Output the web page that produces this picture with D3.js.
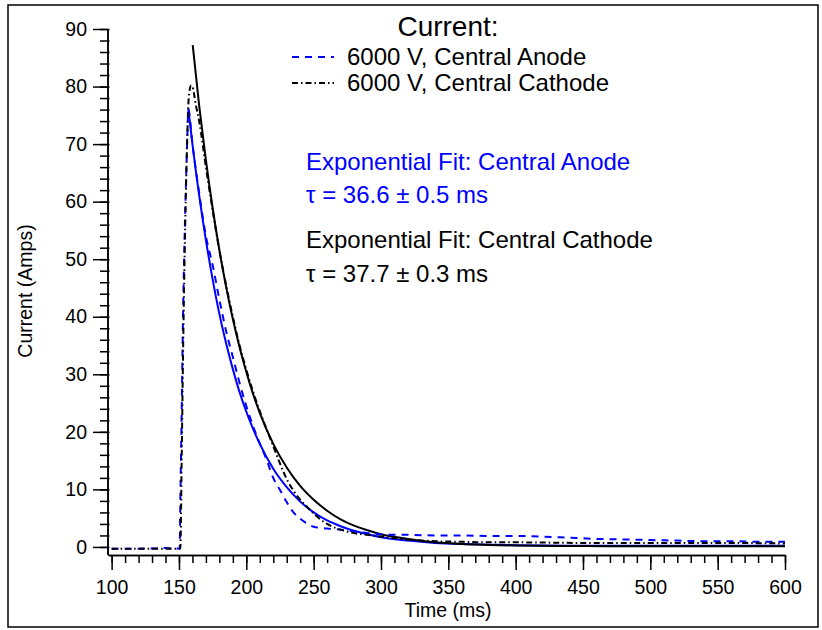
<!DOCTYPE html>
<html>
<head>
<meta charset="utf-8">
<script src="https://cdn.jsdelivr.net/npm/d3@7"></script>
<style>
  html, body { margin: 0; padding: 0; background: #fff; }
  svg { display: block; font-family: "Liberation Sans", Arial, Helvetica, sans-serif; }
</style>
</head>
<body>
<svg id="chart" width="822" height="630"></svg>
<script>
// ---------- data ----------
const anodeTime = [100, 120, 140, 150.5, 151, 151.9, 153, 154.3, 155.3, 156.3, 157, 160, 165, 170, 175, 180, 185, 190, 195, 200, 205, 210, 215, 220, 225, 230, 235, 240, 245, 250, 260, 270, 280, 290, 300, 310, 320, 340, 360, 380, 400, 420, 440, 460, 480, 500, 520, 540, 560, 580, 600];
const anodeCurrent = [-0.3, -0.3, -0.2, -0.3, 8, 21.5, 40, 55, 64, 72, 76, 70, 61.5, 54, 49, 43, 37.5, 33, 28.5, 24.5, 21, 18, 15.2, 12.0, 9.9, 7.8, 6.0, 4.9, 4.1, 3.5, 3.2, 3.0, 2.7, 2.4, 2.2, 2.1, 2.1, 2.0, 2.0, 1.9, 1.9, 1.8, 1.6, 1.4, 1.3, 1.2, 1.1, 1.0, 1.0, 0.9, 0.9];

const cathodeTime = [100, 120, 140, 151, 152, 153, 154, 155, 156, 157, 158, 159, 160, 161, 162, 165, 170, 175, 180, 185, 190, 195, 200, 205, 210, 215, 220, 225, 230, 235, 240, 245, 250, 255, 260, 270, 280, 290, 300, 320, 340, 360, 380, 400, 450, 500, 550, 600];
const cathodeCurrent = [-0.3, -0.3, -0.3, -0.3, 15, 33, 48, 60, 70, 77, 79.5, 80.2, 80, 79, 77.5, 74, 66, 58.5, 51.5, 45.5, 40, 35, 30.8, 27, 23.6, 20.5, 17.5, 14.5, 11.8, 9.8, 8.2, 7.0, 5.8, 4.8, 4.0, 3.0, 2.4, 2.1, 1.8, 1.3, 1.0, 0.9, 0.8, 0.8, 0.7, 0.7, 0.7, 0.6];

const fitAnodeTime = [156.9, 160, 165, 170, 175, 180, 185, 190, 195, 200, 210, 220, 230, 240, 250, 260, 270, 280, 290, 300, 320, 340, 360, 380, 400, 450, 500, 550, 600];
const fitAnodeCurrent = [76.2, 70.0, 61.1, 53.3, 46.5, 40.5, 35.4, 30.9, 26.9, 23.5, 17.9, 13.6, 10.4, 7.9, 6.0, 4.6, 3.6, 2.8, 2.2, 1.7, 1.1, 0.7, 0.5, 0.4, 0.3, 0.2, 0.2, 0.2, 0.2];

const fitCathodeTime = [160.2, 165, 170, 175, 180, 185, 190, 195, 200, 205, 210, 220, 230, 240, 250, 260, 270, 280, 290, 300, 320, 340, 360, 380, 400, 450, 500, 550, 600];
const fitCathodeCurrent = [87.2, 76.7, 67.2, 58.9, 51.6, 45.2, 39.6, 34.7, 30.4, 26.6, 23.3, 17.9, 13.8, 10.6, 8.2, 6.3, 4.8, 3.7, 2.9, 2.2, 1.4, 0.8, 0.5, 0.35, 0.25, 0.15, 0.1, 0.1, 0.1];

const xMajorTicks = [100, 150, 200, 250, 300, 350, 400, 450, 500, 550, 600];
const yMajorTicks = [0, 10, 20, 30, 40, 50, 60, 70, 80, 90];

const legendTitle = "Current:";
const legendLabels = ["6000 V, Central Anode", "6000 V, Central Cathode"];
const fitTexts = ["Exponential Fit: Central Anode", "τ = 36.6 ± 0.5 ms", "Exponential Fit: Central Cathode", "τ = 37.7 ± 0.3 ms"];
const xTitle = "Time (ms)";
const yTitle = "Current (Amps)";

// ---------- drawing ----------
const svg = d3.select("#chart");
const BLUE = "#0000ff";
const FONT = 19.5;

// outer frame
svg.append("rect").attr("x", 8).attr("y", 5).attr("width", 810).attr("height", 622)
  .attr("fill", "none").attr("stroke", "#000").attr("stroke-width", 1.5);

const x = d3.scaleLinear().domain([97.3, 600]).range([108, 785]);
const y = d3.scaleLinear().domain([-1.4, 90]).range([555, 29]);

// x axis: minor then major
const xMinor = svg.append("g").attr("transform", "translate(0,555)")
  .call(d3.axisBottom(x).tickValues(d3.range(100, 601, 10)).tickSize(8).tickSizeOuter(0).tickFormat(""));
const xMajor = svg.append("g").attr("transform", "translate(0,555)")
  .call(d3.axisBottom(x).tickValues(xMajorTicks).tickSize(15).tickSizeOuter(0).tickPadding(10).tickFormat(d3.format("d")));
[xMinor, xMajor].forEach(g => {
  g.selectAll("path, line").attr("stroke", "#000").attr("stroke-width", 1.5);
});
xMajor.selectAll("text").attr("font-size", FONT).attr("fill", "#000")
  .attr("font-family", "'Liberation Sans', Arial, sans-serif");

// y axis
const yMinor = svg.append("g").attr("transform", "translate(108,0)")
  .call(d3.axisLeft(y).tickValues(d3.range(0, 91, 2)).tickSize(8).tickSizeOuter(0).tickFormat(""));
const yMajor = svg.append("g").attr("transform", "translate(108,0)")
  .call(d3.axisLeft(y).tickValues(yMajorTicks).tickSize(15).tickSizeOuter(0).tickPadding(6).tickFormat(d3.format("d")));
[yMinor, yMajor].forEach(g => {
  g.selectAll("path, line").attr("stroke", "#000").attr("stroke-width", 1.5);
});
yMinor.selectAll(".tick line").attr("x2", -8).attr("x1", 1.5);
yMinor.select("path.domain").attr("d", `M0,${y(90)}V555`);
yMajor.select("path.domain").attr("d", `M0,${y(90)}V555`);
yMajor.selectAll("text").attr("font-size", FONT).attr("fill", "#000")
  .attr("font-family", "'Liberation Sans', Arial, sans-serif");

// axis titles
svg.append("text").attr("x", 448).attr("y", 617).attr("text-anchor", "middle")
  .attr("font-size", FONT).text(xTitle);
svg.append("text").attr("transform", "translate(32,291) rotate(-90)").attr("text-anchor", "middle")
  .attr("font-size", FONT).text(yTitle);

// series
const line = d3.line().x(d => x(d[0])).y(d => y(d[1])).curve(d3.curveMonotoneX);
const zip = (a, b) => a.map((v, i) => [v, b[i]]);

const plot = svg.append("g");
plot.append("path").datum(zip(fitAnodeTime, fitAnodeCurrent)).attr("d", line)
  .attr("fill", "none").attr("stroke", BLUE).attr("stroke-width", 2);
plot.append("path").datum(zip(fitCathodeTime, fitCathodeCurrent)).attr("d", line)
  .attr("fill", "none").attr("stroke", "#000").attr("stroke-width", 2);
plot.append("path").datum(zip(anodeTime, anodeCurrent)).attr("d", line)
  .attr("fill", "none").attr("stroke", BLUE).attr("stroke-width", 2).attr("stroke-dasharray", "7,6");
plot.append("path").datum(zip(cathodeTime, cathodeCurrent)).attr("d", line)
  .attr("fill", "none").attr("stroke", "#000").attr("stroke-width", 2).attr("stroke-dasharray", "6,3,1.5,3");

// legend
svg.append("text").attr("x", 448).attr("y", 36).attr("text-anchor", "middle")
  .attr("font-size", 28).text(legendTitle);
const legStyles = [{ c: BLUE, d: "7,6" }, { c: "#000", d: "6,3,1.5,3" }];
const legY = [57, 83];
legendLabels.forEach((lab, i) => {
  svg.append("line").attr("x1", 292).attr("x2", 334).attr("y1", legY[i]).attr("y2", legY[i])
    .attr("stroke", legStyles[i].c).attr("stroke-width", 2).attr("stroke-dasharray", legStyles[i].d);
  svg.append("text").attr("x", 347).attr("y", legY[i] + 8).attr("font-size", 24).text(lab);
});

// fit annotations
const annY = [170, 203, 248, 282];
const annC = [BLUE, BLUE, "#000", "#000"];
fitTexts.forEach((t, i) => {
  svg.append("text").attr("x", 306).attr("y", annY[i]).attr("font-size", 24)
    .attr("fill", annC[i]).text(t);
});
</script>
</body>
</html>
